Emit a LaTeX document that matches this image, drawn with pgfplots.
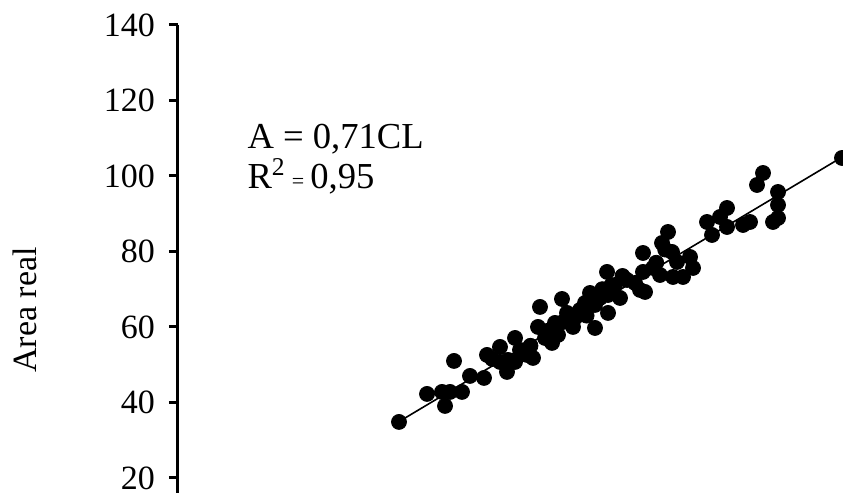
\documentclass[border=0pt]{standalone}
\usepackage{fontspec}
\setmainfont{Liberation Serif}
\usepackage{pgfplots}
\usepackage{pgfplotstable}
\pgfplotsset{compat=1.18}
\pgfplotstableread{
CL A
49.22 34.83
55.46 42.25
58.80 42.78
60.58 42.78
59.47 39.07
63.25 42.78
61.47 50.99
65.03 47.02
68.15 46.49
68.82 52.58
70.00 51.50
71.71 54.70
71.71 50.73
73.27 48.08
73.50 51.26
75.06 50.73
75.06 57.08
76.17 53.90
77.73 52.58
78.50 55.00
79.06 51.79
80.18 60.00
80.62 65.30
81.74 57.08
82.50 59.00
83.30 55.76
83.96 61.06
84.63 57.88
85.52 67.41
85.75 61.32
86.64 63.71
87.97 60.00
88.50 62.50
89.53 64.50
90.65 66.36
91.00 63.00
91.76 69.00
92.87 65.83
92.87 59.73
93.99 67.68
94.50 70.00
95.55 74.57
95.77 68.47
95.77 63.71
96.50 71.00
97.33 71.12
98.44 67.68
99.00 73.50
100.00 72.45
101.78 71.65
102.90 69.80
104.01 69.27
103.56 79.60
103.56 74.57
105.79 75.63
106.50 77.00
107.35 73.77
107.80 82.25
108.50 80.50
109.13 85.16
110.02 79.87
111.14 77.22
110.24 73.24
112.47 73.24
114.03 78.54
114.70 75.63
117.82 87.81
118.93 84.37
120.71 89.14
122.27 91.52
122.27 86.49
125.84 87.02
127.39 87.81
128.95 97.61
130.29 100.79
133.63 95.76
133.63 92.32
132.52 87.81
133.63 88.87
147.88 104.77
}\datatable
\begin{document}
\begin{tikzpicture}
\begin{axis}[
  at={(0,0)}, anchor=south west,
  scale only axis, width=332.5pt, height=234pt,
  xmin=0, xmax=148.1, ymin=16, ymax=140,
  axis x line=none,
  axis y line=left,
  y axis line style={-, line width=1.5pt},
  ytick={20,40,...,140},
  tick align=outside,
  ytick pos=left,
  major tick length=4.5pt,
  major tick style={black, line width=1.5pt},
  yticklabel style={font=\fontsize{17}{19}\selectfont, xshift=-3.5pt, inner ysep=0pt},
  /pgf/number format/assume math mode=true,
  ylabel={Area real},
  ylabel style={at={(axis description cs:-0.23,0.391)}, anchor=center, font=\fontsize{17}{19}\selectfont},
  clip=false,
]
\addplot[black, line width=0.8pt, no marks] coordinates {(49.2,34.9) (147.9,105.0)};
\addplot[only marks, mark=*, mark size=3.75pt, mark options={fill=black, draw=black}] table[x=CL, y=A] {\datatable};
\node[anchor=base west, inner sep=0pt, font=\fontsize{18.3}{21}\selectfont] at (axis cs:15.4,107.4) {A = 0,71CL};
\node[anchor=base west, inner sep=0pt, font=\fontsize{18.3}{21}\selectfont] at (axis cs:15.4,96.8) {R\textsuperscript{2}\,{\fontsize{11}{12}\selectfont =}\,0,95};
\end{axis}
\pgfresetboundingbox
\path[use as bounding box] (-89pt,0pt) rectangle (332.5pt,246.5pt);
\end{tikzpicture}
\end{document}
